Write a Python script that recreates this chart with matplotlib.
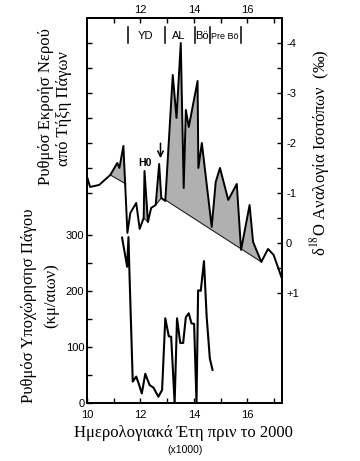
import numpy as np
import matplotlib.pyplot as plt

# delta 18O record, top panel (ages in ka, values in permil)
d18o_age = [10.0, 10.11, 10.45, 10.87, 11.13, 11.21, 11.36, 11.51, 11.62, 11.84, 11.97,
            12.12, 12.15, 12.28, 12.40, 12.57, 12.70, 12.78, 12.93, 13.21, 13.35, 13.51,
            13.62, 13.70, 13.81, 14.14, 14.17, 14.30, 14.67, 14.82, 14.98, 15.29, 15.61,
            15.77, 16.09, 16.22, 16.53, 16.78, 16.99, 17.28]
d18o_val = [-1.32, -1.12, -1.16, -1.36, -1.60, -1.50, -1.94, -0.20, -0.60, -0.80, -0.28,
            -0.50, -1.44, -0.42, -0.70, -0.76, -1.58, -0.90, -0.84, -3.36, -2.50, -4.00,
            -1.10, -2.66, -2.32, -3.24, -1.50, -2.00, -0.32, -1.22, -1.50, -0.86, -1.18,
            0.14, -0.76, -0.02, 0.38, 0.12, 0.24, 0.68]

# shaded areas: (start age, start base, end age, end base)
shade_spans = [(10.87, -1.36, 11.45, -1.18),
               (12.12, -0.50, 12.28, -0.42),
               (12.57, -0.76, 12.78, -0.90),
               (12.93, -0.86, 16.53, 0.38)]

# ice retreat rate, bottom panel (km per century)
retreat_age = [11.31, 11.50, 11.55, 11.58, 11.71, 11.84, 11.93, 12.05, 12.18, 12.34, 12.49,
               12.67, 12.81, 12.93, 13.06, 13.15, 13.28, 13.37, 13.49, 13.60, 13.70, 13.81,
               13.91, 14.01, 14.10, 14.16, 14.26, 14.38, 14.48, 14.60, 14.70]
retreat_rate = [295, 243, 296, 243, 38, 47, 35, 17, 52, 32, 27,
                11, 23, 151, 119, 118, 0, 151, 107, 107, 153, 160,
                142, 141, 0, 201, 200, 253, 154, 79, 59]

# climate periods at the top
period_names = ['YD', 'AL', 'Bö', 'Pre Bö']
period_mid = [12.18, 13.42, 14.31, 15.17]
period_edges = [11.52, 12.93, 14.04, 14.60, 15.76]

serif = 'Liberation Serif'
sans = 'Liberation Sans'
plt.rcParams['font.family'] = [sans, 'DejaVu Sans']
plt.rcParams['mathtext.fontset'] = 'stix'

fig = plt.figure(figsize=(3.6, 4.61), dpi=100)
ax = fig.add_axes([0.242, 0.126, 0.541, 0.835])
ax2 = ax.twinx()
ax3 = ax.twinx()

ax.set_xlim(10, 17.3)
ax.set_ylim(0, 687)
ax2.set_ylim(3.2, -4.5)
ax3.set_ylim(3.2, -4.5)

# bottom panel curve
ax.plot(retreat_age, retreat_rate, color='black', lw=1.5)

# top panel curve with shading
ages = np.array(d18o_age)
vals = np.array(d18o_val)
for a0, b0, a1, b1 in shade_spans:
    sel = (ages >= a0 - 1e-9) & (ages <= a1 + 0.08)
    xs = ages[sel]
    ys = vals[sel]
    base = b0 + (xs - a0) * (b1 - b0) / (a1 - a0)
    ax2.fill_between(xs, ys, base, where=ys <= base, interpolate=True,
                     color='#b0b0b0', lw=0)
    ax2.plot([a0, a1], [b0, b1], color='#202020', lw=0.8)
ax2.plot(d18o_age, d18o_val, color='black', lw=1.4)

# period markers
for e in period_edges:
    ax2.plot([e, e], [-4.31, -4.0], color='black', lw=1.1)
for name, m in zip(period_names, period_mid):
    ax2.text(m, -4.13, name, ha='center', va='center',
             fontsize=6.5 if name == 'Pre Bö' else 8)

ax2.text(12.15, -1.6, 'H0', ha='center', va='center', fontsize=7.5, fontweight='bold')
ax2.annotate('', xy=(12.75, -1.64), xytext=(12.75, -2.05),
             arrowprops=dict(arrowstyle='->', color='black', lw=1.1))

# ticks
ax.set_xticks(range(10, 18))
ax.set_xticklabels(['10', '', '12', '', '14', '', '16', ''])
ax.set_yticks([0, 50, 100, 150, 200, 250, 300])
ax.set_yticklabels(['0', '', '100', '', '200', '', '300'])
ax.tick_params(direction='in', length=3.5, width=1, labelsize=8, pad=2)
ax.tick_params(axis='x', pad=5)

ax2.set_yticks(np.arange(-4, 1.01, 0.5))
ax2.set_yticklabels(['-4', '', '-3', '', '-2', '', '-1', '', '0', '', '+1'])
ax2.tick_params(direction='in', length=3.5, width=1, labelsize=8, pad=3)

ax3.set_yticks(np.arange(-4, -0.99, 0.5))
ax3.yaxis.tick_left()
ax3.tick_params(direction='in', length=3.5, width=1, labelleft=False)

top = ax.secondary_xaxis('top')
top.set_xticks(range(11, 18))
top.set_xticklabels(['', '12', '', '14', '', '16', ''])
top.tick_params(direction='in', length=3.5, width=1, labelsize=8, pad=2)

for a in (ax, ax2, ax3):
    for s in a.spines.values():
        s.set_linewidth(1.2)
for s in top.spines.values():
    s.set_linewidth(1.2)

# axis titles
fig.text(0.128, 0.768, 'Ρυθμόσ Εκροήσ Νερού', rotation=90, ha='center', va='center',
         family=serif, fontsize=12)
fig.text(0.178, 0.764, 'από Τήξη Πάγων', rotation=90, ha='center', va='center',
         family=serif, fontsize=12)
fig.text(0.080, 0.336, 'Ρυθμόσ Υποχώρησησ Πάγου', rotation=90, ha='center', va='center',
         family=serif, fontsize=12)
fig.text(0.142, 0.358, '(κμ/αιων)', rotation=90, ha='center', va='center',
         family=serif, fontsize=12)
fig.text(0.889, 0.670, r'δ$^{18}$O Αναλογία Ισοτόπων  (‰)', rotation=90, ha='center',
         va='center', family=serif, fontsize=12)
fig.text(0.51, 0.061, 'Ημερολογιακά Έτη πριν το 2000', ha='center', va='center',
         family=serif, fontsize=12)
fig.text(0.514, 0.024, '(x1000)', ha='center', va='center', fontsize=7.5)

fig.savefig('out.png', dpi=100)
